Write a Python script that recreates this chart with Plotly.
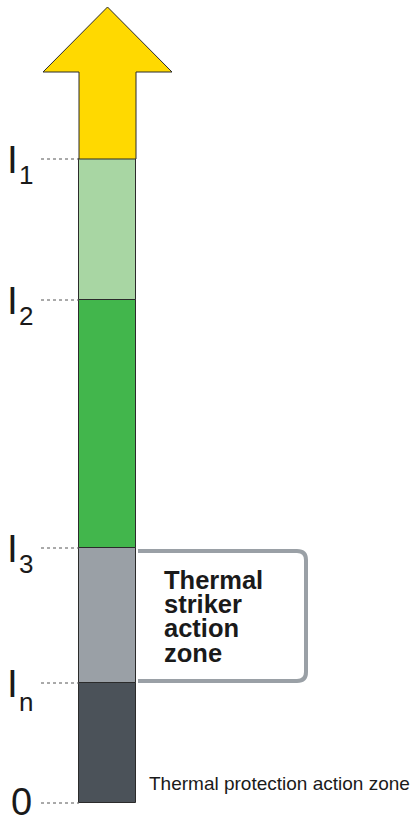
import plotly.graph_objects as go

# ---- data ----
level_names = ["0", "n", "3", "2", "1"]          # subscripts for I (first is plain 0)
level_values = [0, 120, 255, 503, 644]           # current levels (scale units)
arrow_top = 796                                  # arrow tip level
head_base = 731                                  # arrow head base level
segment_colors = ["#4b5259", "#9aa0a6", "#42b64c", "#a8d6a3"]
arrow_color = "#ffd900"
zone_labels = ["Thermal", "striker", "action", "zone"]
bottom_label = "Thermal protection action zone"

# ---- layout constants ----
W, H = 414, 819
bar_c, bar_w = 107.5, 57
head_half = 64.5

fig = go.Figure()

# stacked segments
bottoms = level_values[:-1]
heights = [level_values[i + 1] - level_values[i] for i in range(len(level_values) - 1)]
for b, h, c in zip(bottoms, heights, segment_colors):
    fig.add_trace(go.Bar(x=[bar_c], y=[h], base=[b], width=bar_w,
                         marker=dict(color=c, line=dict(color="#2b2b2b", width=1)),
                         hoverinfo="skip", showlegend=False))

# arrow (yellow)
l, r = bar_c - bar_w / 2, bar_c + bar_w / 2
ax = [l, l, bar_c - head_half, bar_c, bar_c + head_half, r, r, l]
ay = [level_values[-1], head_base, head_base, arrow_top, head_base, head_base, level_values[-1], level_values[-1]]
fig.add_trace(go.Scatter(x=ax, y=ay, fill="toself", fillcolor=arrow_color,
                         mode="lines", line=dict(color="#2b2b2b", width=1),
                         hoverinfo="skip", showlegend=False))

shapes = []
annotations = []
font_main = "Liberation Sans, Arial, sans-serif"
for name, v in zip(level_names, level_values):
    shapes.append(dict(type="line", xref="x", yref="y", x0=41, x1=l, y0=v, y1=v,
                       line=dict(color="#555555", width=1, dash="dot")))
    if name == "0":
        annotations.append(dict(x=21, y=v + 1, text="0", showarrow=False, xanchor="center",
                                yanchor="middle", font=dict(size=38, color="#1a1a1a", family=font_main)))
    else:
        annotations.append(dict(x=12.5, y=v, text="I", showarrow=False, xanchor="center",
                                yanchor="middle", font=dict(size=39, color="#1a1a1a", family=font_main)))
        off = 19 if name == "n" else 16
        annotations.append(dict(x=26, y=v - off, text=name, showarrow=False, xanchor="center",
                                yanchor="middle", font=dict(size=26, color="#1a1a1a", family=font_main)))

# bracket
yt, yb = level_values[2] - 3, level_values[1] + 2
xr, rad, x0 = 306, 9, 138
path = (f"M {x0},{yt} L {xr-rad},{yt} Q {xr},{yt} {xr},{yt-rad} "
        f"L {xr},{yb+rad} Q {xr},{yb} {xr-rad},{yb} L {x0},{yb}")
shapes.append(dict(type="path", xref="x", yref="y", path=path,
                   line=dict(color="#9aa0a6", width=4)))

# zone label lines
zy = [223, 199, 175, 150]
for t, yy in zip(zone_labels, zy):
    annotations.append(dict(x=162, y=yy, text=f"<b>{t}</b>", showarrow=False, xanchor="left",
                            yanchor="middle", font=dict(size=25.5, color="#1a1a1a", family=font_main)))

annotations.append(dict(x=147, y=20, text=bottom_label, showarrow=False, xanchor="left",
                        yanchor="middle", font=dict(size=19, color="#1a1a1a", family=font_main)))

fig.update_layout(
    width=W, height=H, margin=dict(l=0, r=0, t=0, b=0),
    paper_bgcolor="white", plot_bgcolor="white",
    barmode="overlay", bargap=0,
    xaxis=dict(range=[0, W], visible=False, fixedrange=True),
    yaxis=dict(range=[803 - H, 803], visible=False, fixedrange=True),
    shapes=shapes, annotations=annotations,
)

fig.write_html("out.html", config={"displayModeBar": False},
               post_script="document.body.style.margin='0';document.body.style.overflow='hidden';")
